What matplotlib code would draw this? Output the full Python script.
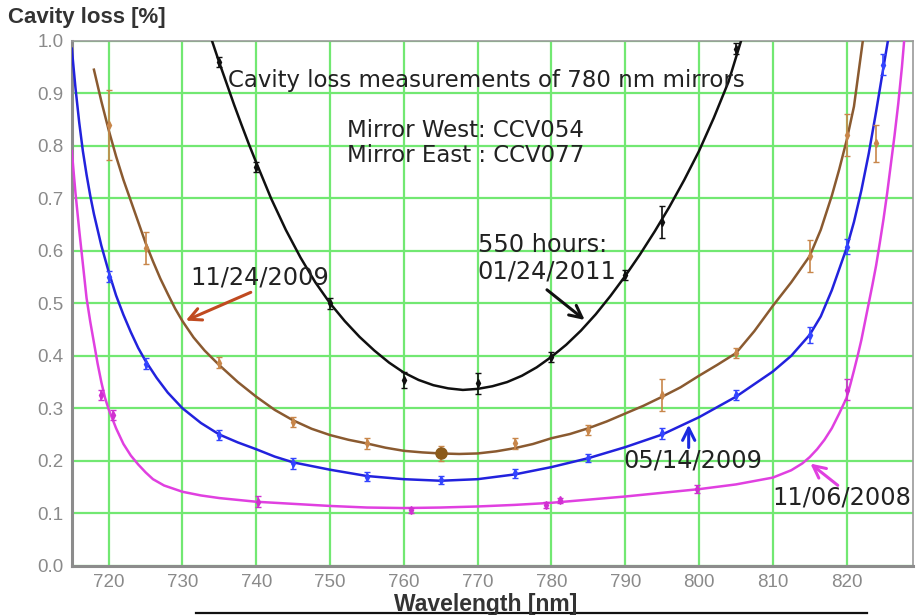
import matplotlib
matplotlib.use("Agg")
import matplotlib.pyplot as plt
from matplotlib.lines import Line2D

plt.rcParams['font.family'] = ['Liberation Sans', 'DejaVu Sans']

# ---- fitted curves (wavelength in nm, loss in %) ----
black_fit_x = [734, 735, 736, 737, 738, 739, 740, 742, 744, 746, 748, 750, 752, 754, 756, 758, 760,
               762, 764, 766, 768, 770, 772, 774, 776, 778, 780, 782, 784, 786, 788, 790, 792, 794,
               796, 798, 800, 802, 804, 805.7]
black_fit_y = [1.0, 0.958, 0.918, 0.878, 0.840, 0.803, 0.768, 0.700, 0.640, 0.587, 0.540, 0.500,
               0.466, 0.436, 0.410, 0.387, 0.368, 0.354, 0.344, 0.338, 0.335, 0.337, 0.342, 0.350,
               0.362, 0.378, 0.398, 0.421, 0.448, 0.479, 0.514, 0.552, 0.593, 0.637, 0.684, 0.735,
               0.790, 0.853, 0.922, 1.0]

brown_fit_x = [718, 719, 720, 721, 722, 723, 724, 725, 726, 727, 728, 729, 730, 731.5, 733, 735,
               737.5, 740, 742.5, 745, 747.5, 750, 752.5, 755, 757.5, 760, 762.5, 765, 767.5, 770,
               772.5, 775, 777.5, 780, 782.5, 785, 787.5, 790, 792.5, 795, 797.5, 800, 802.5, 805,
               807.5, 810, 812.5, 815, 816.5, 818, 819, 820, 821, 822.2]
brown_fit_y = [0.945, 0.885, 0.830, 0.780, 0.735, 0.695, 0.655, 0.615, 0.580, 0.547, 0.518, 0.490,
               0.466, 0.435, 0.410, 0.382, 0.350, 0.322, 0.297, 0.277, 0.261, 0.249, 0.240, 0.233,
               0.225, 0.219, 0.216, 0.214, 0.213, 0.214, 0.218, 0.224, 0.232, 0.243, 0.251, 0.262,
               0.275, 0.290, 0.305, 0.322, 0.340, 0.362, 0.383, 0.405, 0.447, 0.495, 0.540, 0.590,
               0.640, 0.705, 0.755, 0.810, 0.875, 1.0]

blue_fit_x = [715, 715.5, 716, 716.5, 717, 717.5, 718, 719, 720, 721, 722, 723, 724, 725, 726.5,
              728, 730, 732.5, 735, 737.5, 740, 742.5, 745, 750, 755, 760, 765, 770, 775, 780, 785,
              790, 795, 800, 805, 810, 812.5, 815, 816.5, 818, 819, 820, 821, 822, 823, 824, 825,
              825.6]
blue_fit_y = [0.985, 0.910, 0.845, 0.790, 0.745, 0.705, 0.670, 0.610, 0.560, 0.515, 0.478, 0.445,
              0.415, 0.390, 0.358, 0.330, 0.300, 0.272, 0.250, 0.235, 0.222, 0.208, 0.197, 0.183,
              0.171, 0.165, 0.162, 0.165, 0.174, 0.188, 0.205, 0.226, 0.250, 0.283, 0.322, 0.370,
              0.400, 0.440, 0.475, 0.525, 0.565, 0.605, 0.655, 0.715, 0.785, 0.865, 0.950, 1.0]

magenta_fit_x = [715, 715.5, 716, 716.5, 717, 717.5, 718, 718.5, 719, 719.5, 720, 721, 722, 723,
                 724, 725, 726, 727.5, 730, 732.5, 735, 740, 745, 750, 755, 760, 765, 770, 775,
                 780, 785, 790, 795, 800, 805, 810, 812.5, 814, 815, 816, 817, 818, 819, 820,
                 820.5, 821, 821.5, 822, 822.5, 823, 823.5, 824, 824.5, 825, 825.5, 826, 826.5,
                 827, 827.5, 827.8]
magenta_fit_y = [0.790, 0.710, 0.640, 0.575, 0.510, 0.465, 0.425, 0.385, 0.350, 0.320, 0.298,
                 0.262, 0.232, 0.210, 0.193, 0.178, 0.165, 0.153, 0.141, 0.134, 0.129, 0.122,
                 0.118, 0.114, 0.111, 0.110, 0.111, 0.113, 0.116, 0.120, 0.126, 0.132, 0.139,
                 0.146, 0.155, 0.168, 0.182, 0.195, 0.207, 0.222, 0.240, 0.262, 0.290, 0.320,
                 0.345, 0.372, 0.400, 0.430, 0.465, 0.500, 0.535, 0.572, 0.615, 0.660, 0.710,
                 0.765, 0.820, 0.880, 0.950, 1.0]

# ---- measured points ----
black_x = [735, 740, 750, 760, 770, 780, 790, 795, 805]
black_y = [0.960, 0.760, 0.500, 0.354, 0.348, 0.398, 0.554, 0.655, 0.985]
black_err = [0.01, 0.01, 0.01, 0.015, 0.02, 0.01, 0.01, 0.03, 0.01]

brown_x = [720, 725, 735, 745, 755, 765, 775, 785, 795, 805, 815, 820, 824]
brown_y = [0.84, 0.605, 0.387, 0.274, 0.233, 0.214, 0.233, 0.259, 0.325, 0.405, 0.59, 0.82, 0.805]
brown_err = [0.067, 0.03, 0.01, 0.01, 0.01, 0.015, 0.01, 0.01, 0.03, 0.01, 0.03, 0.04, 0.035]

blue_x = [720, 725, 735, 745, 755, 765, 775, 785, 795, 805, 815, 820, 825]
blue_y = [0.551, 0.385, 0.249, 0.195, 0.170, 0.163, 0.176, 0.205, 0.252, 0.325, 0.44, 0.608, 0.954]
blue_err = [0.01, 0.01, 0.01, 0.01, 0.008, 0.008, 0.008, 0.008, 0.01, 0.01, 0.015, 0.015, 0.02]

magenta_x = [719, 720.6, 740.3, 761, 779.3, 781.2, 799.7, 820]
magenta_y = [0.325, 0.287, 0.122, 0.106, 0.116, 0.125, 0.146, 0.335]
magenta_err = [0.01, 0.01, 0.01, 0.005, 0.005, 0.005, 0.008, 0.02]

x_ticks = [720, 730, 740, 750, 760, 770, 780, 790, 800, 810, 820]
y_ticks = [0.0, 0.1, 0.2, 0.3, 0.4, 0.5, 0.6, 0.7, 0.8, 0.9, 1.0]

# ---- figure ----
fig = plt.figure(figsize=(9.16, 6.15), dpi=100)
ax = fig.add_axes([71.8 / 916, 1 - 565.8 / 615, (913 - 71.8) / 916, (565.8 - 40.8) / 615])

grid_green = '#72e872'
ax.set_xlim(715, 829)
ax.set_ylim(0, 1.0)
ax.set_xticks(x_ticks)
ax.set_yticks(y_ticks)
ax.set_xticklabels([str(v) for v in x_ticks])
ax.set_yticklabels([f"{v:.1f}" for v in y_ticks])
ax.grid(True, color=grid_green, lw=1.6)
ax.set_axisbelow(True)
ax.tick_params(length=0, labelsize=13.5, labelcolor='#8a8a8a', pad=6)
for s in ['left', 'bottom']:
    ax.spines[s].set_color('#8c8c8c')
    ax.spines[s].set_linewidth(2.2)
for s in ['top', 'right']:
    ax.spines[s].set_color('#9a9a9a')
    ax.spines[s].set_linewidth(1.2)

series = [
    (black_fit_x, black_fit_y, black_x, black_y, black_err, '#101010', '#101010'),
    (brown_fit_x, brown_fit_y, brown_x, brown_y, brown_err, '#8a5a30', '#c8864a'),
    (blue_fit_x, blue_fit_y, blue_x, blue_y, blue_err, '#2222dd', '#3344ff'),
    (magenta_fit_x, magenta_fit_y, magenta_x, magenta_y, magenta_err, '#e040e0', '#d030d0'),
]
for fx, fy, px, py, pe, lc, pc in series:
    ax.plot(fx, fy, color=lc, lw=1.8, zorder=3, clip_on=True, solid_joinstyle='round')
    ax.errorbar(px, py, yerr=pe, fmt='d', ms=4, color=pc, ecolor=pc, elinewidth=1.2,
                capsize=2, zorder=4)

# larger marker at the brown minimum
ax.plot([765], [0.214], marker='o', ms=8, color='#8b5a1a', zorder=5)

# ---- annotations ----
note_font = ['DejaVu Sans']
ax.text(736.2, 0.925, "Cavity loss measurements of 780 nm mirrors", fontsize=16.5,
        family=note_font, color='#222222', ha='left', va='center')
ax.text(752.3, 0.830, "Mirror West: CCV054", fontsize=16.5, family=note_font,
        color='#222222', ha='left', va='center')
ax.text(752.3, 0.782, "Mirror East : CCV077", fontsize=16.5, family=note_font,
        color='#222222', ha='left', va='center')
for x, y, label in [(770.0, 0.611, "550 hours:"), (770.0, 0.561, "01/24/2011"),
                    (731.0, 0.550, "11/24/2009"), (789.7, 0.200, "05/14/2009"),
                    (810.0, 0.131, "11/06/2008")]:
    ax.text(x, y, label, fontsize=17.3, family=note_font, color='#222222',
            ha='left', va='center')

arrow_kw = dict(arrowstyle='->', lw=2.2, mutation_scale=22)
ax.annotate("", xy=(730.1, 0.465), xytext=(739.6, 0.523),
            arrowprops=dict(color='#c04a20', **arrow_kw), zorder=6)
ax.annotate("", xy=(784.8, 0.465), xytext=(779.1, 0.529),
            arrowprops=dict(color='#111111', **arrow_kw), zorder=6)
ax.annotate("", xy=(798.6, 0.274), xytext=(798.6, 0.22),
            arrowprops=dict(color='#1a2ae0', **arrow_kw), zorder=6)
ax.annotate("", xy=(814.8, 0.198), xytext=(819.1, 0.150),
            arrowprops=dict(color='#e040e0', **arrow_kw), zorder=6)

# ---- axis titles ----
fig.text(8 / 916, 1 - 18 / 615, "Cavity loss [%]", fontsize=16, fontweight='bold',
         color='#333333', ha='left', va='center')
fig.text(486 / 916, 1 - 604 / 615, "Wavelength [nm]", fontsize=16.5, fontweight='bold',
         color='#333333', ha='center', va='center')
fig.add_artist(Line2D([196 / 916, 867 / 916], [1 - 613 / 615, 1 - 613 / 615],
                      color='#111111', lw=1.6, transform=fig.transFigure))

fig.savefig("out.png", dpi=100, facecolor='white')
